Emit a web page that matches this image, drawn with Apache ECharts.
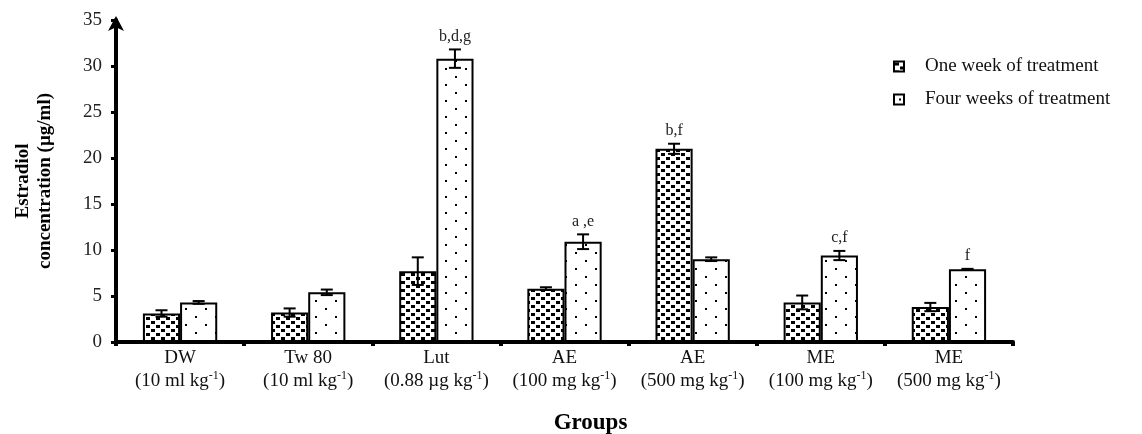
<!DOCTYPE html>
<html>
<head>
    <meta charset="utf-8">
    <title>Estradiol concentration</title>
    <style>
        html, body { margin: 0; padding: 0; background: #fff; }
        #chart1 { width: 1142px; height: 434px; }
    </style>
</head>
<body>
    <div id="chart1"></div>
    <script src="https://cdn.jsdelivr.net/npm/echarts@6/dist/echarts.min.js"></script>
    <script type="text/javascript">
        // 数据
        const groupNames = ['DW', 'Tw 80', 'Lut', 'AE', 'AE', 'ME', 'ME'];
        const groupDoses = ['10 ml', '10 ml', '0.88 µg', '100 mg', '500 mg', '100 mg', '500 mg'];
        const oneWeek = [3.1, 3.2, 7.7, 5.8, 21.0, 4.3, 3.8];
        const oneWeekErr = [0.35, 0.45, 1.5, 0.15, 0.55, 0.75, 0.45];
        const fourWeeks = [4.3, 5.4, 30.8, 10.9, 9.0, 9.4, 7.9];
        const fourWeeksErr = [0.15, 0.3, 1.0, 0.8, 0.2, 0.5, 0.05];
        const oneWeekMarks = ['', '', '', '', 'b,f', '', ''];
        const fourWeeksMarks = ['', '', 'b,d,g', 'a ,e', '', 'c,f', 'f'];
        const yTicks = [0, 5, 10, 15, 20, 25, 30, 35];

        const serif = '"Liberation Serif", "DejaVu Serif", serif';
        const barFrac = 0.29;

        // 填充纹理
        function makePattern(w, h, draw) {
            const c = document.createElement('canvas');
            c.width = w; c.height = h;
            const ctx = c.getContext('2d');
            ctx.fillStyle = '#fff';
            ctx.fillRect(0, 0, w, h);
            ctx.fillStyle = '#000';
            draw(ctx);
            return { image: c, repeat: 'repeat' };
        }
        const densePattern = makePattern(10, 8, (ctx) => {
            ctx.fillRect(1, 1, 4, 3);
            ctx.fillRect(6, 5, 4, 3);
        });
        const dotPattern = makePattern(20, 16, (ctx) => {
            ctx.fillRect(5, 4, 2, 2);
            ctx.fillRect(15, 12, 2, 2);
        });

        function errData(vals, errs) {
            return vals.map((v, i) => [i, v, errs[i]]);
        }

        // 误差线 + 显著性标记
        function errRender(side) {
            return function (params, api) {
                const i = api.value(0), v = api.value(1), e = api.value(2);
                const bandW = api.size([1, 0])[0];
                const off = side * bandW * barFrac / 2;
                const top = api.coord([i, v + e]);
                const bot = api.coord([i, v - e]);
                const x = top[0] + off;
                const cap = 6;
                const children = [
                    { type: 'line', shape: { x1: x, y1: top[1], x2: x, y2: bot[1] }, style: { stroke: '#000', lineWidth: 2 } },
                    { type: 'line', shape: { x1: x - cap, y1: top[1], x2: x + cap, y2: top[1] }, style: { stroke: '#000', lineWidth: 2 } },
                    { type: 'line', shape: { x1: x - cap, y1: bot[1], x2: x + cap, y2: bot[1] }, style: { stroke: '#000', lineWidth: 2 } }
                ];
                const label = (side < 0 ? oneWeekMarks : fourWeeksMarks)[params.dataIndex];
                if (label) {
                    children.push({
                        type: 'text',
                        style: {
                            text: label, x: x, y: top[1] - 13,
                            align: 'center', verticalAlign: 'middle',
                            font: '16px ' + serif, fill: '#222'
                        }
                    });
                }
                return { type: 'group', children: children };
            };
        }

        let myChart1 = echarts.init(document.getElementById('chart1'));
        myChart1.setOption({
            backgroundColor: '#fff',
            animation: false,
            grid: { left: 116, right: 129, top: 20, bottom: 92, containLabel: false, outerBoundsMode: 'none' },
            legend: {
                orient: 'vertical',
                left: 888,
                top: 52,
                itemGap: 14,
                itemWidth: 10,
                itemHeight: 10,
                icon: 'rect',
                data: ['One week of treatment', 'Four weeks of treatment'],
                textStyle: { fontFamily: serif, fontSize: 19, color: '#111', padding: [0, 0, 0, 16] }
            },
            xAxis: {
                type: 'category',
                data: groupNames,
                name: 'Groups',
                nameLocation: 'middle',
                nameGap: 70,
                nameTextStyle: { fontFamily: serif, fontSize: 23, fontWeight: 'bold', color: '#000', padding: [0, 0, 0, 52] },
                axisLine: { lineStyle: { color: '#000', width: 4 } },
                axisTick: { show: true, length: 4, lineStyle: { color: '#000', width: 4 } },
                axisLabel: {
                    margin: 5,
                    interval: 0,
                    formatter: (val, idx) => '{n|' + val + '}\n{d|(' + groupDoses[idx] + ' kg}{s|-1}{d|)}',
                    rich: {
                        n: { fontFamily: serif, fontSize: 19, color: '#111', lineHeight: 23 },
                        d: { fontFamily: serif, fontSize: 19, color: '#111', lineHeight: 23 },
                        s: { fontFamily: serif, fontSize: 12, color: '#111', lineHeight: 23, verticalAlign: 'top', padding: [0, 0, 9, 0] }
                    }
                }
            },
            yAxis: {
                type: 'value',
                min: 0,
                max: 35,
                interval: 5,
                name: 'Estradiol\nconcentration (µg/ml)',
                nameLocation: 'middle',
                nameGap: 60,
                nameRotate: 90,
                nameTextStyle: { fontFamily: serif, fontSize: 19, fontWeight: 'bold', color: '#000', lineHeight: 22 },
                splitLine: { show: false },
                axisLine: { show: true, symbol: ['none', 'arrow'], symbolSize: [12, 15], symbolOffset: [0, 4], lineStyle: { color: '#000', width: 4 } },
                axisTick: { show: true, length: 5, lineStyle: { color: '#000', width: 3 } },
                axisLabel: {
                    margin: 14,
                    fontFamily: serif, fontSize: 19, color: '#222',
                    formatter: (v) => yTicks.indexOf(v) >= 0 ? String(v) : ''
                }
            },
            series: [
                {
                    name: 'One week of treatment',
                    type: 'bar',
                    barWidth: (barFrac * 100) + '%',
                    barGap: '0%',
                    data: oneWeek,
                    itemStyle: { color: densePattern, borderColor: '#000', borderWidth: 2 }
                },
                {
                    name: 'Four weeks of treatment',
                    type: 'bar',
                    barWidth: (barFrac * 100) + '%',
                    barGap: '0%',
                    data: fourWeeks,
                    itemStyle: { color: dotPattern, borderColor: '#000', borderWidth: 2 }
                },
                {
                    type: 'custom',
                    renderItem: errRender(-1),
                    encode: { x: 0, y: 1 },
                    data: errData(oneWeek, oneWeekErr),
                    z: 5
                },
                {
                    type: 'custom',
                    renderItem: errRender(1),
                    encode: { x: 0, y: 1 },
                    data: errData(fourWeeks, fourWeeksErr),
                    z: 5
                }
            ]
        });
    </script>
</body>
</html>
